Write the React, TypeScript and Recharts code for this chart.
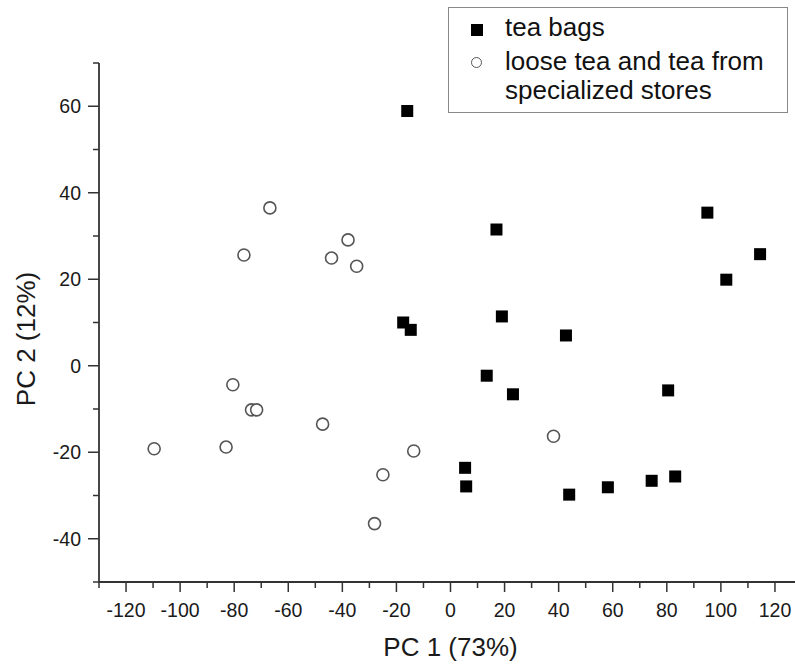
import React from 'react';
import { ScatterChart, Scatter, XAxis, YAxis } from 'recharts';

// PC scores
const teaBagsX = [-16, 17, 95, 114.5, 102, 19, 42.7, -17.5, -14.7, 13.4, 23.1, 80.5, 5.4, 5.8, 43.9, 58.2, 74.4, 83.1];
const teaBagsY = [58.9, 31.5, 35.4, 25.8, 19.9, 11.4, 7.0, 10.0, 8.3, -2.3, -6.6, -5.7, -23.6, -27.9, -29.8, -28.1, -26.6, -25.6];
const looseX = [-66.8, -76.4, -37.9, -44.0, -34.7, -80.5, -73.6, -71.7, -47.3, -109.6, -83.0, -13.6, -25.0, -28.1, 38.1];
const looseY = [36.5, 25.6, 29.1, 24.9, 23.0, -4.4, -10.2, -10.2, -13.5, -19.2, -18.8, -19.7, -25.2, -36.5, -16.3];

const xTicks = [-130, -120, -110, -100, -90, -80, -70, -60, -50, -40, -30, -20, -10, 0, 10, 20, 30, 40, 50, 60, 70, 80, 90, 100, 110, 120, 130];
const yTicks = [-50, -40, -30, -20, -10, 0, 10, 20, 30, 40, 50, 60, 70];

const teaBags = teaBagsX.map((x, i) => ({ x, y: teaBagsY[i] }));
const loose = looseX.map((x, i) => ({ x, y: looseY[i] }));

const FONT = '"Liberation Sans", Arial, sans-serif';
const INK = '#333';

const XTick = (props: any) => {
  const { x, y, payload } = props;
  const major = payload.value % 20 === 0;
  return (
    <g>
      <line x1={x} y1={y} x2={x} y2={y + (major ? 10 : 6)} stroke={INK} strokeWidth={1.5} />
      {major && (
        <text x={x} y={y + 28} textAnchor="middle" dominantBaseline="central" fontSize={19.5} fontFamily={FONT} fill="#1a1a1a">
          {payload.value}
        </text>
      )}
    </g>
  );
};

const YTick = (props: any) => {
  const { x, y, payload } = props;
  const major = payload.value % 20 === 0;
  return (
    <g>
      <line x1={x} y1={y} x2={x - (major ? 11 : 6)} y2={y} stroke={INK} strokeWidth={1.5} />
      {major && (
        <text x={x - 18} y={y} textAnchor="end" dominantBaseline="central" fontSize={19.5} fontFamily={FONT} fill="#1a1a1a">
          {payload.value}
        </text>
      )}
    </g>
  );
};

const Square = (props: any) => {
  const { cx, cy } = props;
  return <rect x={cx - 6} y={cy - 6} width={12} height={12} fill="#000" />;
};

const Ring = (props: any) => {
  const { cx, cy } = props;
  return <circle cx={cx} cy={cy} r={6} fill="#fff" stroke="#555" strokeWidth={1.6} />;
};

const XLabel = (props: any) => {
  const { viewBox } = props;
  return (
    <text x={viewBox.x + viewBox.width / 2} y={647} textAnchor="middle" dominantBaseline="central" fontSize={26} fontFamily={FONT} fill="#1a1a1a">
      PC 1 (73%)
    </text>
  );
};

const YLabel = () => (
  <text x={26} y={339} transform="rotate(-90 26 339)" textAnchor="middle" dominantBaseline="central" fontSize={26} fontFamily={FONT} fill="#1a1a1a">
    PC 2 (12%)
  </text>
);

export default function App() {
  return (
    <div style={{ position: 'absolute', left: 0, top: 0, width: 795, height: 664, overflow: 'hidden', background: '#fff', fontFamily: FONT }}>
      <ScatterChart width={810} height={664} margin={{ top: 63, right: 8, bottom: 22, left: 39 }}>
        <XAxis
          type="number"
          dataKey="x"
          domain={[-130, 130]}
          ticks={xTicks}
          interval={0}
          tickSize={0}
          tickMargin={0}
          tickLine={false}
          height={60}
          tick={<XTick />}
          axisLine={{ stroke: INK, strokeWidth: 1.8 }}
          label={<XLabel />}
          allowDataOverflow
        />
        <YAxis
          type="number"
          dataKey="y"
          domain={[-50, 70]}
          ticks={yTicks}
          interval={0}
          tickSize={0}
          tickMargin={0}
          tickLine={false}
          width={60}
          tick={<YTick />}
          axisLine={{ stroke: INK, strokeWidth: 1.8 }}
          label={<YLabel />}
          allowDataOverflow
        />
        <Scatter name="tea bags" data={teaBags} shape={<Square />} isAnimationActive={false} />
        <Scatter name="loose tea and tea from specialized stores" data={loose} shape={<Ring />} isAnimationActive={false} />
      </ScatterChart>
      <div
        style={{
          position: 'absolute',
          left: 448,
          top: 7,
          width: 340,
          height: 106,
          boxSizing: 'border-box',
          border: '1px solid #888',
          background: '#fff',
          fontSize: 26,
          color: '#111',
        }}
      >
        <div style={{ position: 'absolute', left: 22, top: 16, width: 12, height: 12, background: '#000' }} />
        <div style={{ position: 'absolute', left: 56, top: 5, lineHeight: '29px', whiteSpace: 'nowrap' }}>tea bags</div>
        <div style={{ position: 'absolute', left: 22, top: 49, width: 11, height: 11, borderRadius: '50%', border: '1.5px solid #555', boxSizing: 'border-box' }} />
        <div style={{ position: 'absolute', left: 56, top: 39, lineHeight: '29px', whiteSpace: 'nowrap' }}>
          loose tea and tea from
          <br />
          specialized stores
        </div>
      </div>
    </div>
  );
}
